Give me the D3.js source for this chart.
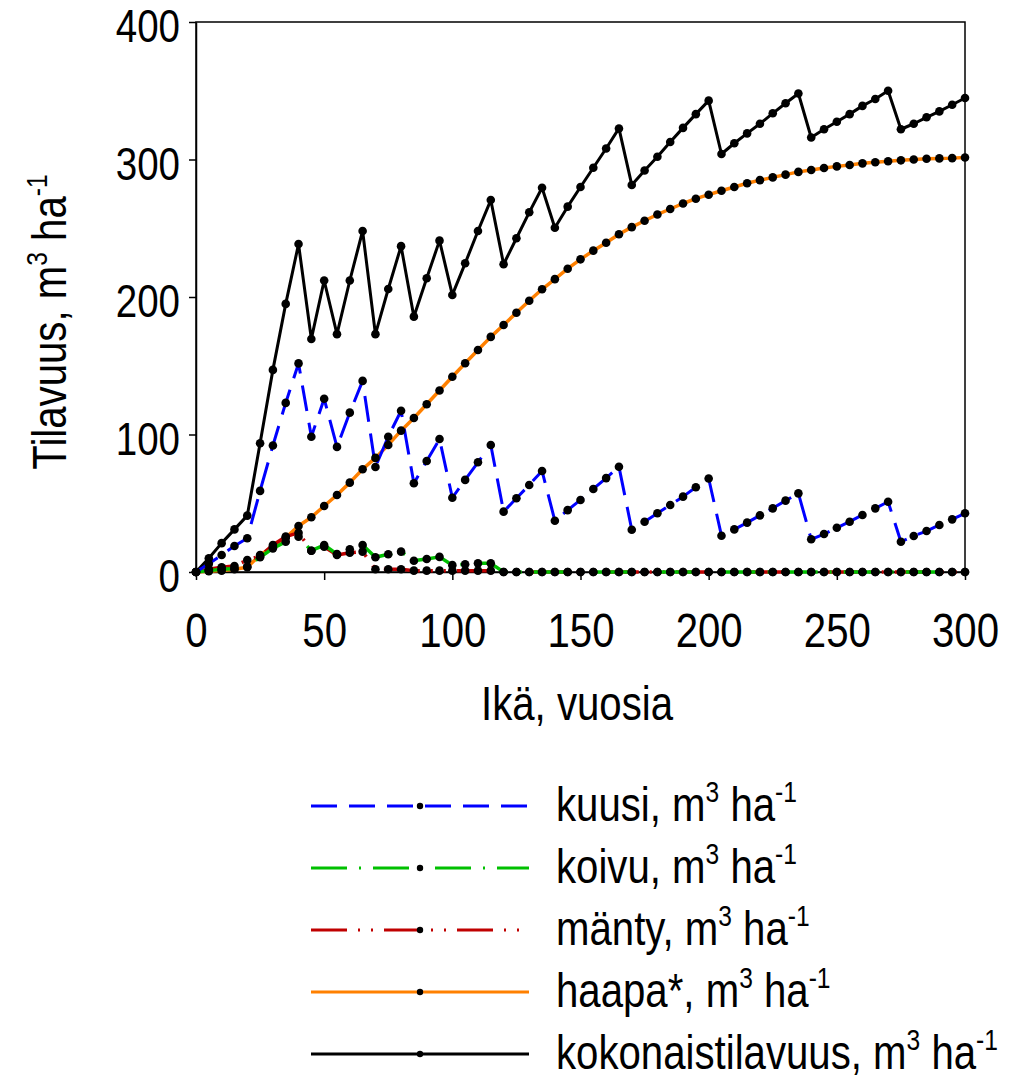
<!DOCTYPE html>
<head>
  <meta charset="utf-8">
  <style>
    body { margin: 0; background: #fff; }
    svg text { font-family: "Liberation Sans", Arial, sans-serif; fill: #000; }
    .tick text { font-size: 49px; }
    .yaxis .tick text { font-size: 47px; }
    .domain, .tick line { stroke: #000; stroke-width: 1.5px; }
  </style>
</head>
<body>
  <svg width="1023" height="1081"></svg>
  <script src="https://d3js.org/d3.v7.min.js"></script>
  <script>

  // ages 0..300 every 5 years
  var ages = d3.range(0, 301, 5);

  var kuusi = [0, 6, 12.4, 18.9, 24.5, 59, 92, 123, 151.7, 98.4, 126, 91, 115.9, 139, 76.4, 98.4,
    117.3, 64.5, 80.7, 96.7, 54, 67, 79.8, 92.4, 43.9, 53.6, 63.3, 73.5, 37.3, 45, 52.4, 60.4,
    68.3, 76.6, 30.7, 36.6, 42.7, 48.7, 54.8, 61.6, 68, 26.4, 31, 35.9, 41.2, 46.3, 51.9, 57.2,
    23.8, 27.6, 32.2, 36.6, 41.5, 46.3, 51.1, 22, 26.2, 29.8, 34.2, 38.3, 42.7];

  var koivu = [0, 1, 2, 2.5, 4, 10.7, 17.2, 22, 25.7, 15.5, 19.6, 13, 16.5, 19.6, 10.7, 12.9,
    14.8, 8.2, 9.5, 11, 5, 5.6, 6.3, 6.3, 0, 0, 0, 0, 0, 0, 0, 0,
    0, 0, 0, 0, 0, 0, 0, 0, 0, 0, 0, 0, 0, 0, 0, 0,
    0, 0, 0, 0, 0, 0, 0, 0, 0, 0, 0, 0, 0];

  var manty = [0, 2, 3.5, 4.4, 8.7, 11.6, 19.6, 25.7, 28.6, 15.5, 18.4, 12.4, 14, 14.8, 2, 2,
    2, 1, 1, 1, 1, 1, 1, 1, 0, 0, 0, 0, 0, 0, 0, 0,
    0, 0, 0, 0, 0, 0, 0, 0, 0, 0, 0, 0, 0, 0, 0, 0,
    0, 0, 0, 0, 0, 0, 0, 0, 0, 0, 0, 0, 0];

  var haapa = [0, 0.5, 1, 2, 3.5, 12.4, 18.4, 25, 33.5, 39.8, 48, 56, 65, 74.7, 83, 92.4,
    102.8, 112, 122, 132, 142, 151.8, 161.5, 171, 179.6, 188.6, 197.3, 205.6, 213, 220.6, 227.4, 233.7,
    239.5, 245.6, 250.8, 255.5, 260, 264, 268, 271.5, 274.4, 277.3, 280, 282.7, 285, 287, 289, 291,
    292.4, 293.8, 295, 296, 297.2, 298, 298.7, 299.4, 300, 300.5, 300.8, 301, 301.5];

  var kokonais = [0, 10, 21, 31, 41, 93.6, 147, 195, 238.5, 169.5, 212, 173, 212, 248, 173, 205.8,
    237, 185.7, 213.6, 241, 201.5, 224.5, 248, 270.5, 223.8, 242.7, 261.6, 279.5, 250.4, 265.7, 280, 294,
    308, 322.6, 281.5, 292, 302, 312.7, 323, 333, 342.8, 304, 311.8, 319, 326, 333.6, 340.9, 348,
    316, 322, 327.5, 333, 339, 344, 350, 322, 326, 330.7, 335, 339.8, 344.7];

  var xTicks = [0, 50, 100, 150, 200, 250, 300];
  var yTicks = [0, 100, 200, 300, 400];

  var series = [
    { name: "kokonaistilavuus", values: kokonais, color: "#000000", dash: null, width: 3 },
    { name: "haapa*", values: haapa, color: "#ff8000", dash: null, width: 3.5 },
    { name: "mänty", values: manty, color: "#c00000", dash: "36 11 2 11 2 11", width: 3.5 },
    { name: "koivu", values: koivu, color: "#00c000", dash: "36 12 2 12", width: 3.5 },
    { name: "kuusi", values: kuusi, color: "#0000ff", dash: "26 12", width: 3 }
  ];
  var legendOrder = ["kuusi", "koivu", "mänty", "haapa*", "kokonaistilavuus"];

  var narrow = 0.82; // fake a narrow font

  var svg = d3.select("svg");

  var x = d3.scaleLinear().domain([0, 300]).range([196, 965]);
  var y = d3.scaleLinear().domain([0, 400]).range([572, 22]);

  // frame
  svg.append("rect")
      .attr("x", x(0)).attr("y", y(400))
      .attr("width", x(300) - x(0)).attr("height", y(0) - y(400))
      .attr("fill", "none").attr("stroke", "#000").attr("stroke-width", 1.5);

  svg.append("g")
      .attr("transform", "translate(0," + y(0) + ")")
      .call(d3.axisBottom(x).tickValues(xTicks).tickSize(8).tickSizeOuter(0))
    .selectAll("text")
      .attr("y", 40).attr("dy", "0.71em")
      .attr("transform", "scale(" + narrow + ",1)");

  svg.append("g")
      .attr("class", "yaxis")
      .attr("transform", "translate(" + x(0) + ",0)")
      .call(d3.axisLeft(y).tickValues(yTicks).tickSize(7).tickSizeOuter(0))
    .selectAll("text")
      .attr("x", -16 / narrow).attr("dy", "0.42em")
      .attr("transform", "scale(" + narrow + ",1)");

  var line = d3.line()
      .x(function(d, i) { return x(ages[i]); })
      .y(function(d) { return y(d); });

  series.forEach(function(s) {
    svg.append("path")
        .datum(s.values)
        .attr("d", line)
        .attr("fill", "none")
        .attr("stroke", s.color)
        .attr("stroke-width", s.width)
        .attr("stroke-dasharray", s.dash)
        .attr("stroke-linejoin", "round");
  });

  series.forEach(function(s) {
    svg.append("g").selectAll("circle")
        .data(s.values)
        .enter().append("circle")
        .attr("cx", function(d, i) { return x(ages[i]); })
        .attr("cy", function(d) { return y(d); })
        .attr("r", 4.3)
        .attr("fill", "#000");
  });

  function unitText(sel, label) {
    sel.append("tspan").text(label + ", m");
    sel.append("tspan").attr("dy", -19).style("font-size", "30px").text("3");
    sel.append("tspan").attr("dy", 19).text(" ha");
    sel.append("tspan").attr("dy", -19).style("font-size", "30px").text("-1");
  }

  // axis titles
  svg.append("text")
      .attr("transform", "translate(577,720) scale(" + narrow + ",1)")
      .attr("text-anchor", "middle")
      .style("font-size", "49px")
      .text("Ikä, vuosia");

  svg.append("text")
      .attr("transform", "translate(66,322) rotate(-90) scale(" + narrow + ",1)")
      .attr("text-anchor", "middle")
      .style("font-size", "49px")
      .call(unitText, "Tilavuus");

  // legend
  var legend = svg.append("g");
  legendOrder.forEach(function(name, i) {
    var s = series.find(function(d) { return d.name === name; });
    var ly = 806 + i * 62;
    legend.append("line")
        .attr("x1", 311).attr("x2", 529)
        .attr("y1", ly).attr("y2", ly)
        .attr("stroke", s.color)
        .attr("stroke-width", 3)
        .attr("stroke-dasharray", s.dash);
    legend.append("circle")
        .attr("cx", 420).attr("cy", ly).attr("r", 3.2).attr("fill", "#000");
    legend.append("text")
        .attr("transform", "translate(556," + (ly + 15) + ") scale(" + narrow + ",1)")
        .style("font-size", "49px")
        .call(unitText, name);
  });

  </script>
</body>
</html>
